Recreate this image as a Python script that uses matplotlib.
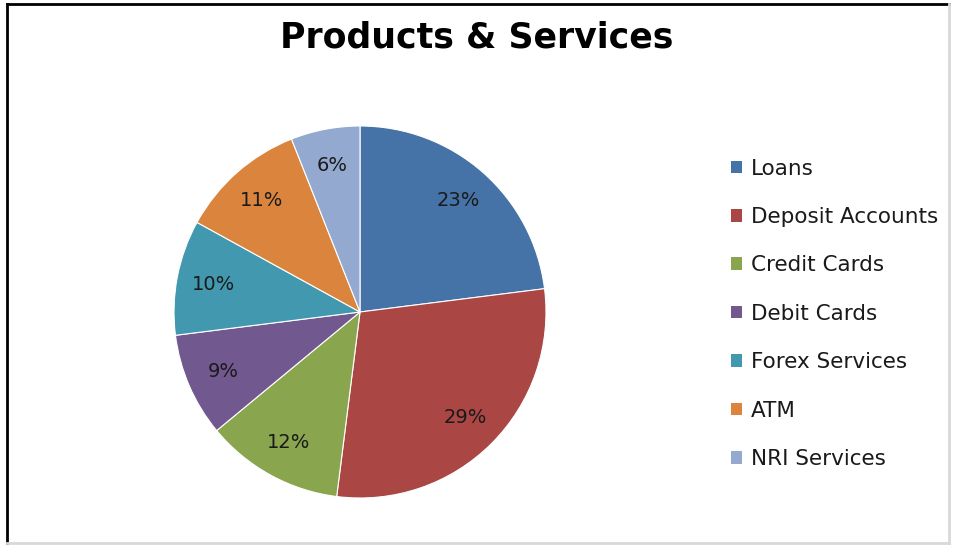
import matplotlib
matplotlib.use("Agg")
import matplotlib.pyplot as plt
from matplotlib.patches import Patch
from matplotlib.lines import Line2D

categories = ["Loans", "Deposit Accounts", "Credit Cards", "Debit Cards",
              "Forex Services", "ATM", "NRI Services"]
values = [23, 29, 12, 9, 10, 11, 6]
colors = ["#4572A7", "#AA4643", "#89A54E", "#71588F", "#4198AF", "#DB843D", "#93A9CF"]
title = "Products & Services"

W, H = 954, 546
fig = plt.figure(figsize=(W / 100, H / 100), dpi=100)
fig.patch.set_facecolor("white")

cx, cy, r = 360, 312, 186
ax = fig.add_axes([(cx - r) / W, (H - cy - r) / H, 2 * r / W, 2 * r / H])
wedges, texts, autotexts = ax.pie(
    values, colors=colors, startangle=90, counterclock=False,
    autopct=lambda p: f"{p:.0f}%", pctdistance=0.8,
    wedgeprops=dict(edgecolor="white", linewidth=0.8),
    textprops=dict(fontsize=14, color="#1a1a1a", family="DejaVu Sans"))
ax.set_xlim(-1, 1)
ax.set_ylim(-1, 1)
ax.set_aspect("equal")
ax.axis("off")

fig.text(0.5, 1 - 47 / H, title, ha="center", va="baseline",
         fontsize=25, fontweight="bold", family="DejaVu Sans")

handles = [Patch(facecolor=c, edgecolor="none") for c in colors]
leg = fig.legend(handles, categories, loc="upper left",
                 bbox_to_anchor=(731 / W, 1 - 158.5 / H), frameon=False,
                 fontsize=15.5, handlelength=0.52, handleheight=0.52,
                 handletextpad=0.42, labelspacing=1.32, borderaxespad=0,
                 borderpad=0)
for t in leg.get_texts():
    t.set_color("#1a1a1a")

# frame border
fig.add_artist(Line2D([7.5 / W, 7.5 / W], [3 / H, 1 - 4 / H], color="black", lw=2, transform=fig.transFigure))
fig.add_artist(Line2D([7.5 / W, 1 - 5 / W], [1 - 4 / H, 1 - 4 / H], color="black", lw=2, transform=fig.transFigure))
fig.add_artist(Line2D([1 - 5 / W, 1 - 5 / W], [3 / H, 1 - 4 / H], color="#d8d8d8", lw=2, transform=fig.transFigure))
fig.add_artist(Line2D([7.5 / W, 1 - 5 / W], [3 / H, 3 / H], color="#d8d8d8", lw=2, transform=fig.transFigure))

fig.savefig("out.png", dpi=100, facecolor="white")
